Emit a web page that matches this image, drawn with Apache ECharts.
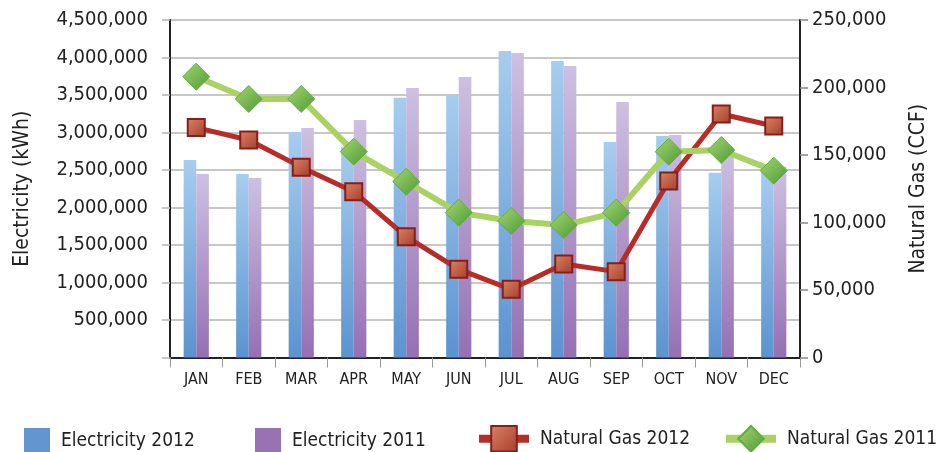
<!DOCTYPE html>
<html lang="en">
<head>
<meta charset="UTF-8">
<title>Electricity and Natural Gas</title>
<style>
  html, body { margin: 0; padding: 0; background: #fff; }
  #container { width: 943px; height: 452px; }
</style>
</head>
<body>
<div id="container"></div>
<script src="https://cdn.jsdelivr.net/npm/echarts@6/dist/echarts.min.js"></script>
<script type="text/javascript">
var months = ['JAN', 'FEB', 'MAR', 'APR', 'MAY', 'JUN', 'JUL', 'AUG', 'SEP', 'OCT', 'NOV', 'DEC'];
var elec2012 = [2633000, 2447000, 3002000, 2811000, 3464000, 3500000, 4087000, 3953000, 2875000, 2955000, 2464000, 2470000];
var elec2011 = [2447000, 2393000, 3060000, 3167000, 3593000, 3740000, 4060000, 3887000, 3407000, 2967000, 2750000, 2544000];
var gas2012 = [170300, 161100, 141000, 122800, 89500, 65300, 50500, 69300, 63600, 130700, 180400, 171500];
var gas2011 = [208000, 191500, 191500, 152500, 130200, 107300, 101100, 98100, 107300, 152400, 153700, 138400];

var FONT = '"Liberation Sans Narrow", "DejaVu Sans Condensed", "Roboto", sans-serif';
var TXT = '#222';

var dom = document.getElementById('container');
var myChart = echarts.init(dom);

function fmt(v) {
    return v.toString().replace(/\B(?=(\d{3})+(?!\d))/g, ',');
}
function grad(top, bottom) {
    return new echarts.graphic.LinearGradient(0, 0, 0, 1, [
        { offset: 0, color: top },
        { offset: 1, color: bottom }
    ]);
}
var squareFill = new echarts.graphic.LinearGradient(0, 0, 1, 1, [
    { offset: 0, color: '#dc8466' },
    { offset: 1, color: '#a33d2a' }
]);
var diamondFill = new echarts.graphic.LinearGradient(0, 0, 1, 1, [
    { offset: 0, color: '#a6d676' },
    { offset: 1, color: '#4c9a30' }
]);

// one legend per entry so each sits where it does in the picture
function legendAt(left, name, w, h, icon, style, lineW) {
    var item = { name: name };
    if (icon) item.icon = icon;
    if (style) item.itemStyle = style;
    var lg = {
        left: left,
        top: 436 - h / 2,
        itemWidth: w,
        itemHeight: h,
        data: [item],
        selectedMode: false,
        textStyle: { fontFamily: FONT, fontSize: 19, color: TXT, padding: [0, 0, 0, 6] }
    };
    if (lineW) lg.lineStyle = { width: lineW };
    return lg;
}

var option = {
    backgroundColor: '#fff',
    animation: false,
    textStyle: { fontFamily: FONT },
    legend: [
        legendAt(19, 'Electricity 2012', 26, 26, 'rect', { color: '#6196d0' }),
        legendAt(250, 'Electricity 2011', 26, 26, 'rect', { color: '#9a72b4' }),
        legendAt(470, 'Natural Gas 2012', 50, 32, null, null, 8),
        legendAt(717, 'Natural Gas 2011', 50, 32, null, null, 8)
    ],
    grid: { left: 170, right: 143, top: 20, bottom: 94.5 },
    xAxis: {
        type: 'category',
        data: months,
        axisLine: { lineStyle: { color: '#222', width: 2 } },
        axisTick: { show: true, length: 10, lineStyle: { color: '#999' } },
        axisLabel: { fontFamily: FONT, fontSize: 16, color: TXT, margin: 14 }
    },
    yAxis: [
        {
            type: 'value',
            min: 0,
            max: 4500000,
            interval: 500000,
            name: 'Electricity (kWh)',
            nameLocation: 'middle',
            nameRotate: 90,
            nameGap: 137,
            nameTextStyle: { fontFamily: FONT, fontSize: 21, color: TXT },
            axisLine: { show: true, lineStyle: { color: '#222', width: 2 } },
            axisTick: { show: true, length: 8, lineStyle: { color: '#b4b4b4', width: 1.5 } },
            splitLine: { lineStyle: { color: '#b4b4b4', width: 1.5 } },
            axisLabel: {
                fontFamily: FONT, fontSize: 20, color: TXT, margin: 22,
                formatter: function (v) { return v === 0 ? '' : fmt(v); }
            }
        },
        {
            type: 'value',
            min: 0,
            max: 250000,
            interval: 50000,
            name: 'Natural Gas (CCF)',
            nameLocation: 'middle',
            nameRotate: 90,
            nameGap: 108,
            nameTextStyle: { fontFamily: FONT, fontSize: 21, color: TXT },
            axisLine: { show: true, lineStyle: { color: '#222', width: 2 } },
            axisTick: { show: true, length: 8, lineStyle: { color: '#888', width: 1.5 } },
            splitLine: { show: false },
            axisLabel: {
                fontFamily: FONT, fontSize: 20, color: TXT, margin: 12,
                formatter: function (v) { return fmt(v); }
            }
        }
    ],
    series: [
        {
            name: 'Electricity 2012',
            type: 'bar',
            data: elec2012,
            barWidth: '24%',
            barGap: '0%',
            itemStyle: { color: grad('#a7cdee', '#5b93d0') }
        },
        {
            name: 'Electricity 2011',
            type: 'bar',
            data: elec2011,
            barWidth: '24%',
            barGap: '0%',
            itemStyle: { color: grad('#cdc0e1', '#9570b4') }
        },
        {
            name: 'Natural Gas 2012',
            type: 'line',
            yAxisIndex: 1,
            data: gas2012,
            symbol: 'rect',
            symbolSize: 17,
            lineStyle: { color: '#b72c27', width: 5 },
            itemStyle: { color: squareFill, borderColor: '#861e19', borderWidth: 2 },
            z: 3
        },
        {
            name: 'Natural Gas 2011',
            type: 'line',
            yAxisIndex: 1,
            data: gas2011,
            symbol: 'diamond',
            symbolSize: 27,
            lineStyle: { color: '#a9d163', width: 6 },
            itemStyle: { color: diamondFill, borderColor: '#5fae3b', borderWidth: 1 },
            z: 4
        }
    ]
};

myChart.setOption(option);
</script>
</body>
</html>
